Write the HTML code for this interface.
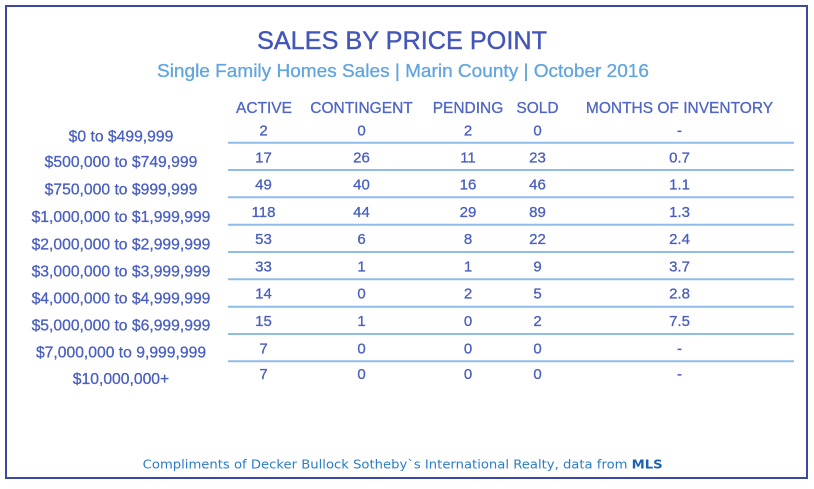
<!DOCTYPE html>
<html>
<head>
<meta charset="utf-8">
<style>
  html, body { margin: 0; padding: 0; background: #ffffff; }
  svg { display: block; }
  .t { font-family: "Liberation Sans", Arial, sans-serif; }
  .hdr { font-size: 15.5px; fill: #5066c2; stroke: #5066c2; stroke-width: 0.3px; }
  .val { font-size: 15px; fill: #4a5fbf; stroke: #4a5fbf; stroke-width: 0.3px; }
  .lbl { font-size: 15.7px; fill: #4a5fbf; stroke: #4a5fbf; stroke-width: 0.3px; }
</style>
</head>
<body>
<svg width="814" height="489" viewBox="0 0 814 489" xmlns="http://www.w3.org/2000/svg">
  <rect x="0" y="0" width="814" height="489" fill="#ffffff"/>
  <rect x="6" y="6" width="801" height="472" fill="none" stroke="#3b49a3" stroke-width="2"/>

  <text class="t" x="402" y="49" text-anchor="middle" font-size="25" fill="#4356b8" stroke="#4356b8" stroke-width="0.4" textLength="290" lengthAdjust="spacingAndGlyphs">SALES BY PRICE POINT</text>
  <text class="t" x="403" y="77" text-anchor="middle" font-size="18" fill="#62a5de" stroke="#62a5de" stroke-width="0.3" textLength="492" lengthAdjust="spacingAndGlyphs">Single Family Homes Sales | Marin County | October 2016</text>

  <g class="t hdr" text-anchor="middle">
    <text x="264" y="113">ACTIVE</text>
    <text x="361.5" y="113">CONTINGENT</text>
    <text x="468" y="113">PENDING</text>
    <text x="537.5" y="113">SOLD</text>
    <text x="679.5" y="113">MONTHS OF INVENTORY</text>
  </g>

  <g stroke="#90bce8" stroke-width="2">
    <line x1="228" y1="142.7" x2="794" y2="142.7"/>
    <line x1="228" y1="170" x2="794" y2="170"/>
    <line x1="228" y1="197.3" x2="794" y2="197.3"/>
    <line x1="228" y1="224.7" x2="794" y2="224.7"/>
    <line x1="228" y1="252" x2="794" y2="252"/>
    <line x1="228" y1="279.3" x2="794" y2="279.3"/>
    <line x1="228" y1="306.7" x2="794" y2="306.7"/>
    <line x1="228" y1="334" x2="794" y2="334"/>
    <line x1="228" y1="361.3" x2="794" y2="361.3"/>
  </g>

  <g class="t lbl" text-anchor="middle">
    <text x="121" y="141.5">$0 to $499,999</text>
    <text x="121" y="167">$500,000 to $749,999</text>
    <text x="121" y="194.5">$750,000 to $999,999</text>
    <text x="121" y="222">$1,000,000 to $1,999,999</text>
    <text x="121" y="249.3">$2,000,000 to $2,999,999</text>
    <text x="121" y="276.5">$3,000,000 to $3,999,999</text>
    <text x="121" y="303.5">$4,000,000 to $4,999,999</text>
    <text x="121" y="330.7">$5,000,000 to $6,999,999</text>
    <text x="121" y="357.7">$7,000,000 to 9,999,999</text>
    <text x="121" y="384">$10,000,000+</text>
  </g>

  <g class="t val" text-anchor="middle">
    <text x="263.5" y="135.3">2</text><text x="361.5" y="135.3">0</text><text x="468" y="135.3">2</text><text x="537.5" y="135.3">0</text><text x="679.5" y="135.3">-</text>
    <text x="263.5" y="162.3">17</text><text x="361.5" y="162.3">26</text><text x="468" y="162.3">11</text><text x="537.5" y="162.3">23</text><text x="679.5" y="162.3">0.7</text>
    <text x="263.5" y="189.5">49</text><text x="361.5" y="189.5">40</text><text x="468" y="189.5">16</text><text x="537.5" y="189.5">46</text><text x="679.5" y="189.5">1.1</text>
    <text x="263.5" y="217">118</text><text x="361.5" y="217">44</text><text x="468" y="217">29</text><text x="537.5" y="217">89</text><text x="679.5" y="217">1.3</text>
    <text x="263.5" y="244.2">53</text><text x="361.5" y="244.2">6</text><text x="468" y="244.2">8</text><text x="537.5" y="244.2">22</text><text x="679.5" y="244.2">2.4</text>
    <text x="263.5" y="271.5">33</text><text x="361.5" y="271.5">1</text><text x="468" y="271.5">1</text><text x="537.5" y="271.5">9</text><text x="679.5" y="271.5">3.7</text>
    <text x="263.5" y="298.7">14</text><text x="361.5" y="298.7">0</text><text x="468" y="298.7">2</text><text x="537.5" y="298.7">5</text><text x="679.5" y="298.7">2.8</text>
    <text x="263.5" y="326">15</text><text x="361.5" y="326">1</text><text x="468" y="326">0</text><text x="537.5" y="326">2</text><text x="679.5" y="326">7.5</text>
    <text x="263.5" y="353.3">7</text><text x="361.5" y="353.3">0</text><text x="468" y="353.3">0</text><text x="537.5" y="353.3">0</text><text x="679.5" y="353.3">-</text>
    <text x="263.5" y="379">7</text><text x="361.5" y="379">0</text><text x="468" y="379">0</text><text x="537.5" y="379">0</text><text x="679.5" y="379">-</text>
  </g>

  <text x="142.7" y="468.3" font-family="'DejaVu Sans', 'Liberation Sans', sans-serif" font-size="12.5" fill="#2b7dc9" textLength="520" lengthAdjust="spacingAndGlyphs">Compliments of Decker Bullock Sotheby`s International Realty, data from <tspan font-weight="bold" fill="#1a62b3">MLS</tspan></text>
</svg>
</body>
</html>
